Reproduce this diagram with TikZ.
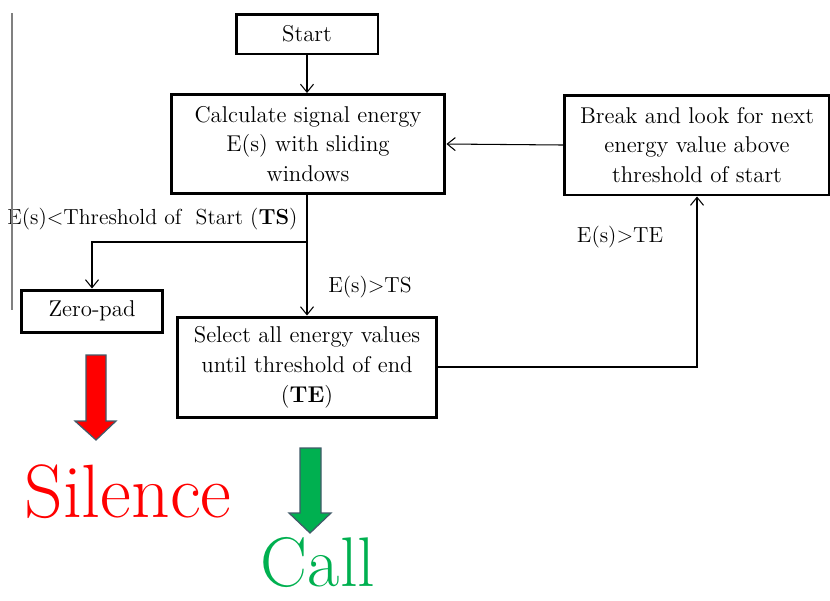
\documentclass[tikz,border=0pt]{standalone}
\usepackage{fontspec}
\usetikzlibrary{positioning, arrows.meta}

\definecolor{silencered}{RGB}{255,0,0}
\definecolor{callgreen}{RGB}{0,176,80}
\definecolor{arrowrim}{RGB}{65,90,105}

\begin{document}
\begin{tikzpicture}[
            x = 0.02cm, y = -0.02cm,
            > = {Straight Barb[length=1.6mm, width=2.6mm]},
            stepbox/.style = {rectangle, draw, line width=1.7pt, align=center,
                              inner sep=2pt, font=\fontsize{13}{17}\selectfont},
            flow/.style = {draw, line width=0.6pt},
            cond/.style = {font=\fontsize{12.4}{17}\selectfont, inner sep=0pt},
            blockarrow/.style = {draw=arrowrim, line width=0.7pt},
            outcome/.style = {font=\fontsize{43}{43}\selectfont, anchor=base, inner sep=0pt,
                              text depth=0pt}
        ]
            \useasboundingbox (0,0) rectangle (830,600);

            % Boxes
            \node[stepbox, minimum width=2.84cm, minimum height=0.8cm] (start) at (307,34) {Start};
            \node[stepbox, minimum width=5.48cm, minimum height=1.98cm] (calc) at (308,144)
                {Calculate signal energy\\E(s) with sliding\\windows};
            \node[stepbox, minimum width=5.3cm, minimum height=2.0cm] (brk) at (697,145)
                {Break and look for next\\energy value above\\threshold of start};
            \node[stepbox, minimum width=2.84cm, minimum height=0.84cm] (zero) at (92,311) {Zero-pad};
            \node[stepbox, minimum width=5.2cm, minimum height=2.0cm] (sel) at (307,367)
                {Select all energy values\\until threshold of end\\(\textbf{TE})};
            \coordinate (split) at (307,242);

            % Connectors
            \path[flow, ->] (start.south) -- (start.south |- calc.north);
            \path[flow, ->] (brk.west) -- (calc.east);
            \path[flow] (calc.south -| split) -- (split);
            \path[flow, ->] (split) -| (zero.north);
            \path[flow, ->] (split) -- (split |- sel.north);
            \path[flow, ->] (sel.east) -| (brk.south);

            % Conditions
            \node[cond, anchor=west] (lowts) at (7,219) {E(s)<Threshold of\ \ Start (\textbf{TS})};
            \node[cond] (hights) at (370,287) {E(s)>TS};
            \node[cond] (highte) at (620,237) {E(s)>TE};

            % Left rule
            \draw[gray, line width=1.2pt] (12,13) -- (12,310);

            % Outcomes
            \filldraw[blockarrow, fill=silencered] (86,355) -- (106,355) -- (106,421) -- (116,421)
                -- (96,440) -- (75,421) -- (86,421) -- cycle;
            \filldraw[blockarrow, fill=callgreen] (300,448) -- (321,448) -- (321,513) -- (331,513)
                -- (310,533) -- (289,513) -- (300,513) -- cycle;
            \node[outcome, text=silencered] (silence) at (128,517) {Silence};
            \node[outcome, text=callgreen, font=\fontsize{40}{40}\selectfont] (call) at (318,586) {Call};

        \end{tikzpicture}
\end{document}
